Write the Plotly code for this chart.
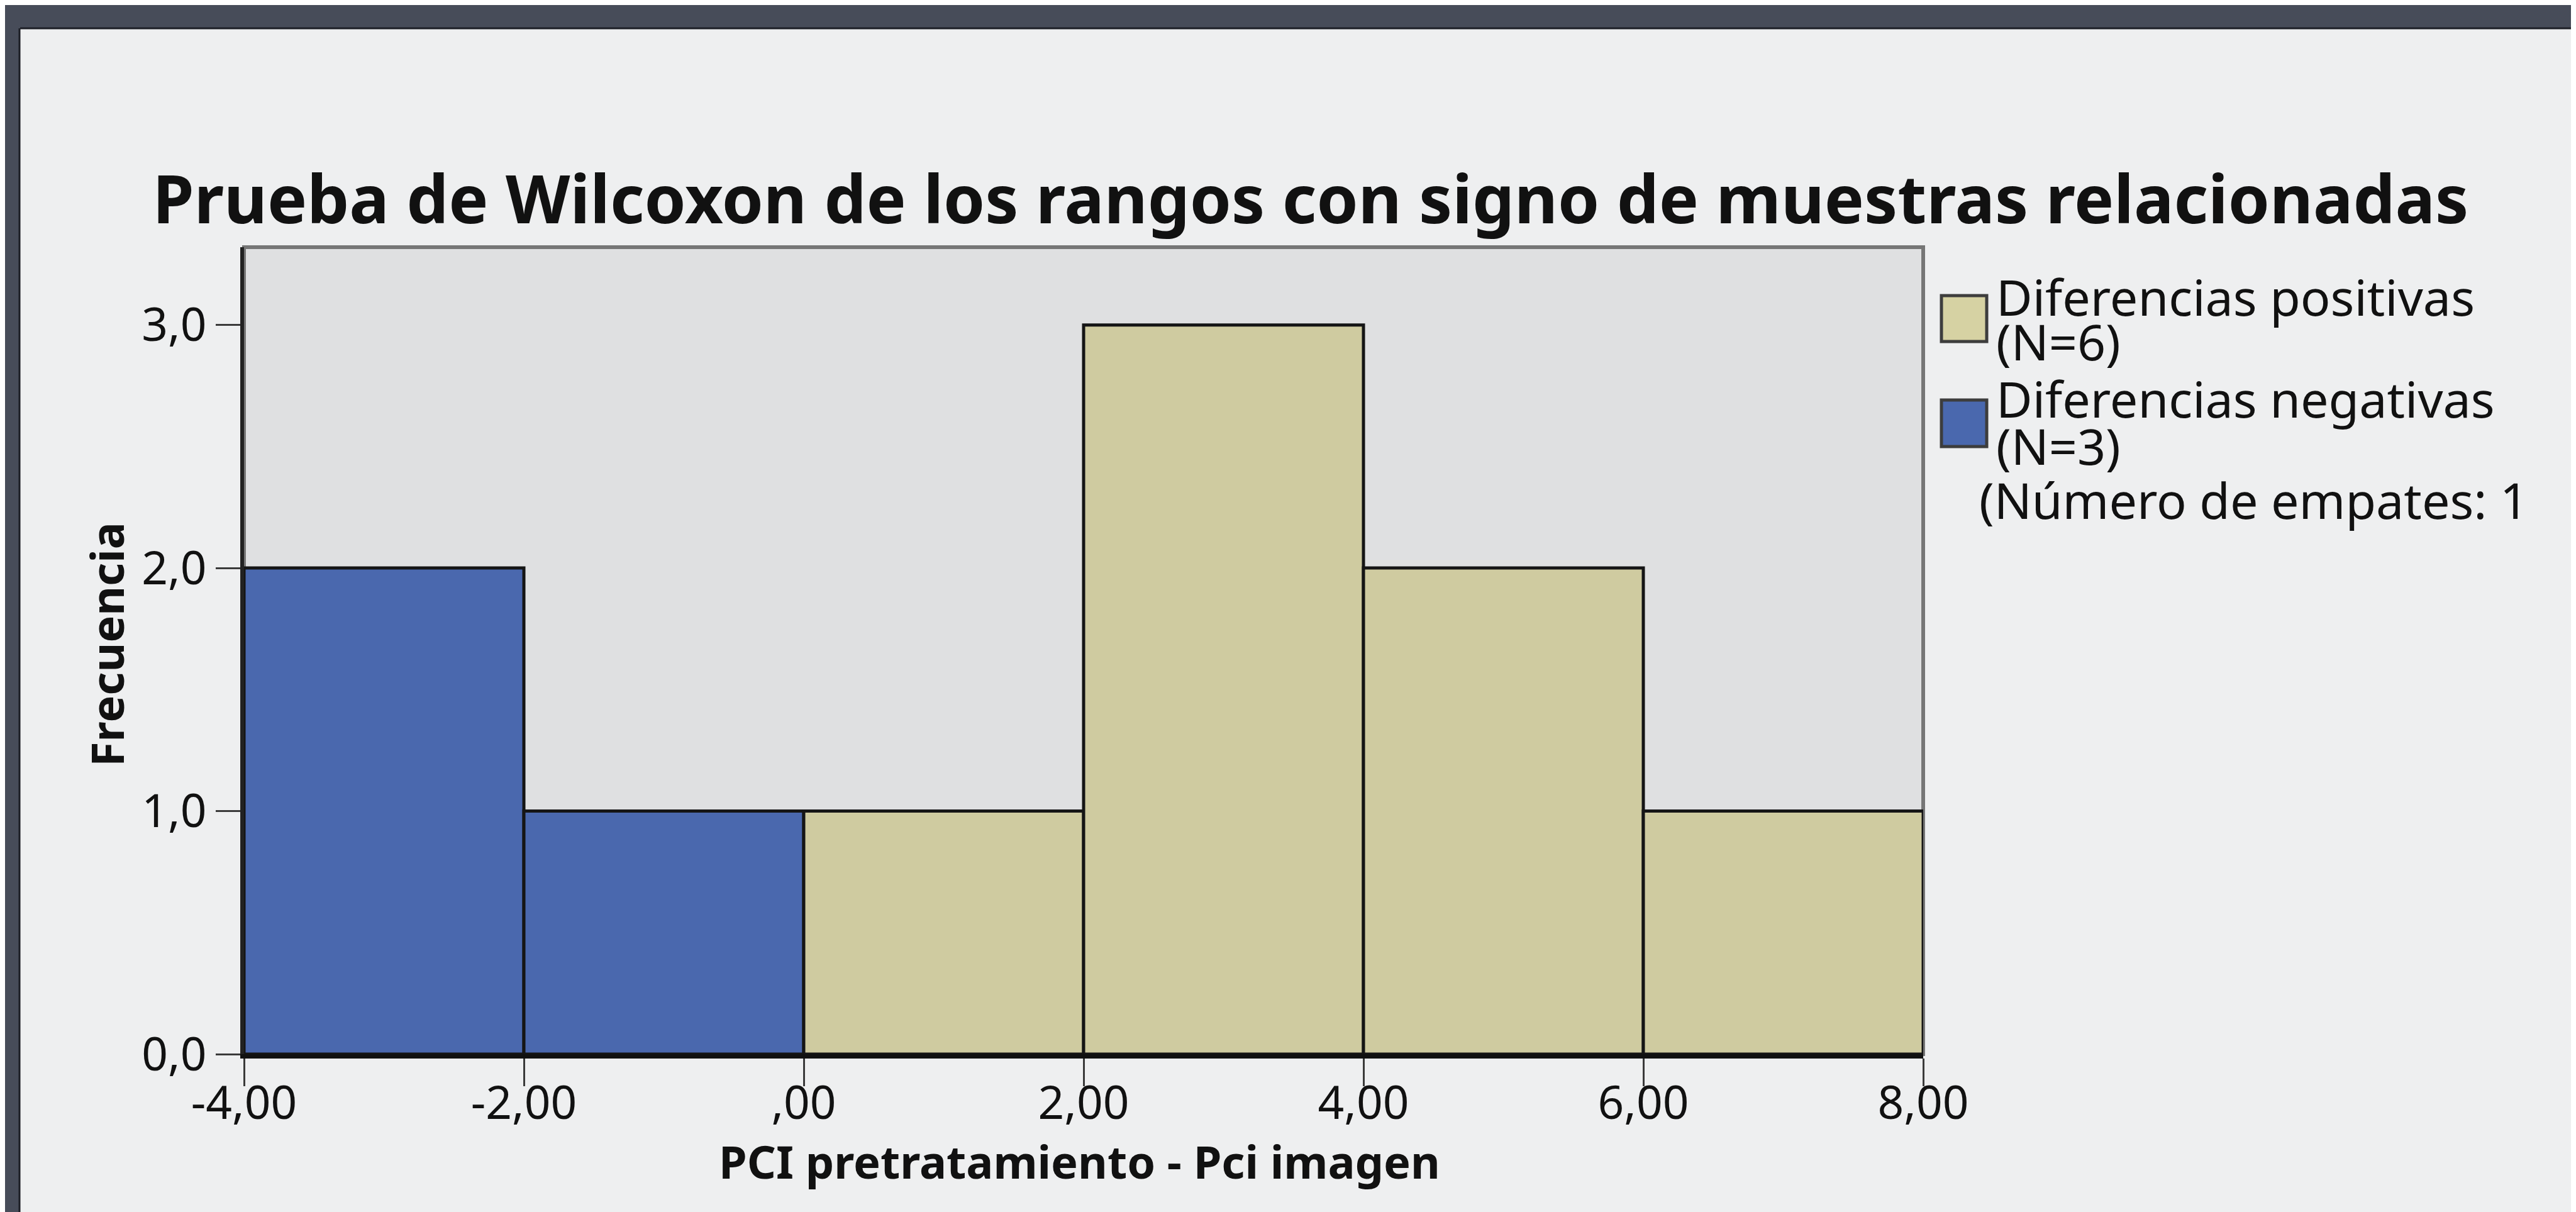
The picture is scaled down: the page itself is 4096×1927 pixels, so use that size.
import plotly.graph_objects as go

# ---------------- data ----------------
neg_bins = [-4, -2]          # left edges of "negative differences" bins
neg_counts = [2, 1]
pos_bins = [0, 2, 4, 6]      # left edges of "positive differences" bins
pos_counts = [1, 3, 2, 1]
BIN_WIDTH = 2

x_tick_vals = [-4, -2, 0, 2, 4, 6, 8]
x_tick_text = ["-4,00", "-2,00", ",00", "2,00", "4,00", "6,00", "8,00"]
y_tick_vals = [0, 1, 2, 3]
y_tick_text = ["0,0", "1,0", "2,0", "3,0"]

title_text = "Prueba de Wilcoxon de los rangos con signo de muestras relacionadas"
x_title = "PCI pretratamiento - Pci imagen"
y_title = "Frecuencia"
legend_pos = ["Diferencias positivas", "(N=6)"]
legend_neg = ["Diferencias negativas", "(N=3)"]
legend_ties = "(Número de empates: 1"

# ---------------- styling ----------------
W, H = 4096, 1927
L, R, T, B = 380, 1046, 385, 259
PW, PH = W - L - R, H - T - B
FONT = "Noto Sans"
BLUE = "#4a68ae"
TAN = "#cfcba0"
PANEL = "#eeeff0"
DARK = "#474c59"


def px_x(p):  # figure pixel -> paper x
    return (p - L) / PW


def px_y(p):  # figure pixel -> paper y
    return (H - B - p) / PH


fig = go.Figure()
fig.add_trace(go.Bar(
    x=[b + BIN_WIDTH / 2 for b in neg_bins], y=neg_counts, width=BIN_WIDTH,
    marker=dict(color=BLUE, line=dict(color="#151515", width=5)),
    name="Diferencias negativas", showlegend=False))
fig.add_trace(go.Bar(
    x=[b + BIN_WIDTH / 2 for b in pos_bins], y=pos_counts, width=BIN_WIDTH,
    marker=dict(color=TAN, line=dict(color="#151515", width=5)),
    name="Diferencias positivas", showlegend=False))

shapes = []
# dark frame of the screenshot (top and left strips)
shapes.append(dict(type="rect", xref="paper", yref="paper", layer="below",
                   x0=px_x(0), x1=px_x(W), y0=px_y(38), y1=px_y(0),
                   fillcolor=DARK, line=dict(width=0)))
shapes.append(dict(type="rect", xref="paper", yref="paper", layer="below",
                   x0=px_x(0), x1=px_x(24), y0=px_y(H), y1=px_y(0),
                   fillcolor=DARK, line=dict(width=0)))
shapes.append(dict(type="line", xref="paper", yref="paper", layer="below",
                   x0=px_x(24), x1=px_x(W), y0=px_y(37), y1=px_y(37),
                   line=dict(color="#1d1f26", width=3)))
shapes.append(dict(type="line", xref="paper", yref="paper", layer="below",
                   x0=px_x(23), x1=px_x(23), y0=px_y(H), y1=px_y(37),
                   line=dict(color="#1d1f26", width=3)))
# plot frame
shapes.append(dict(type="rect", xref="paper", yref="paper", layer="below",
                   x0=0, x1=1, y0=0, y1=1,
                   line=dict(color="#767676", width=6)))
# legend swatches
shapes.append(dict(type="rect", xref="paper", yref="paper",
                   x0=px_x(3079), x1=px_x(3151), y0=px_y(535), y1=px_y(462),
                   fillcolor="#d6d2a3", line=dict(color="#3d3d3d", width=5)))
shapes.append(dict(type="rect", xref="paper", yref="paper",
                   x0=px_x(3079), x1=px_x(3151), y0=px_y(702), y1=px_y(628),
                   fillcolor=BLUE, line=dict(color="#3d3d3d", width=5)))

annotations = []
LEG_SIZE = 79


def add_text(text, xpix, ypix, size, bold=False, angle=0, xanchor="left"):
    annotations.append(dict(
        text=text, xref="paper", yref="paper", x=px_x(xpix), y=px_y(ypix),
        xanchor=xanchor, yanchor="middle", showarrow=False, textangle=angle,
        font=dict(family=FONT, size=size, color="#111111",
                  weight="bold" if bold else "normal")))


add_text(legend_pos[0], 3164, 463, LEG_SIZE)
add_text(legend_pos[1], 3164, 534, LEG_SIZE)
add_text(legend_neg[0], 3164, 625, LEG_SIZE)
add_text(legend_neg[1], 3164, 700, LEG_SIZE)
add_text(legend_ties, 3137, 786, LEG_SIZE)
add_text(x_title, 1708, 1838, 72, bold=True, xanchor="center")
add_text(y_title, 161, 1017, 72, bold=True, angle=-90, xanchor="center")

fig.update_layout(
    width=W, height=H,
    margin=dict(l=L, r=R, t=T, b=B, autoexpand=False),
    paper_bgcolor=PANEL, plot_bgcolor="#dfe0e1",
    barmode="overlay",
    title=dict(text=title_text, x=2076 / W, xanchor="center",
               y=1 - 310 / H, yanchor="middle", xref="container", yref="container",
               font=dict(family=FONT, size=106, color="#111111", weight="bold")),
    xaxis=dict(range=[-4, 8], tickmode="array", tickvals=x_tick_vals, ticktext=x_tick_text,
               ticks="outside", ticklen=44, tickwidth=3, tickcolor="#3a3a3a",
               showline=True, linecolor="#111111", linewidth=7,
               showgrid=False, zeroline=False, ticklabelstandoff=-36,
               tickfont=dict(family=FONT, size=73, color="#111111")),
    yaxis=dict(range=[0, 3.32], tickmode="array", tickvals=y_tick_vals, ticktext=y_tick_text,
               ticks="outside", ticklen=39, tickwidth=3, tickcolor="#3a3a3a",
               showline=True, linecolor="#222222", linewidth=6,
               showgrid=False, zeroline=False, ticklabelstandoff=0,
               tickfont=dict(family=FONT, size=73, color="#111111")),
    shapes=shapes, annotations=annotations,
)

fig.write_html("out.html")
